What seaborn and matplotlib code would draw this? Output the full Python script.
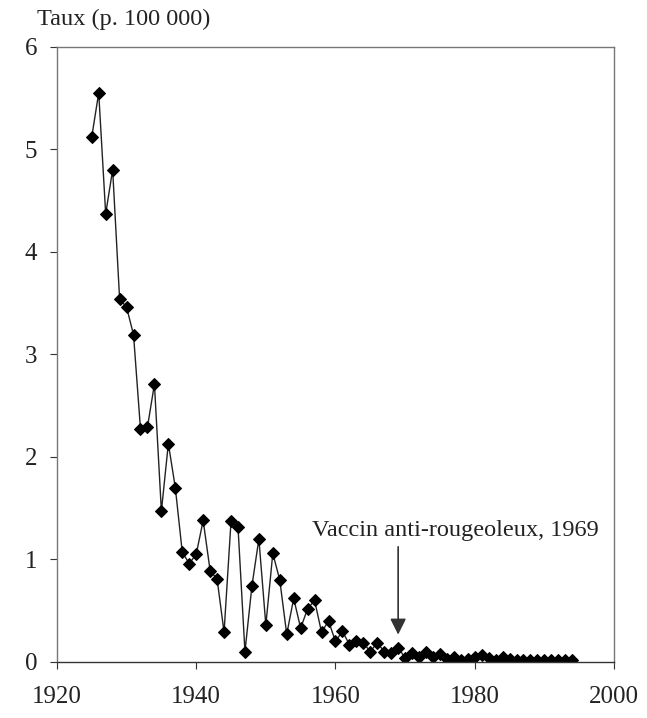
import matplotlib
matplotlib.use("Agg")
import matplotlib.pyplot as plt
import seaborn as sns
import pandas as pd

# annual rate per 100 000
years = list(range(1925, 1995))
taux = [5.12, 5.55, 4.37, 4.80, 3.54, 3.46, 3.19, 2.27, 2.29, 2.71,
        1.47, 2.13, 1.70, 1.07, 0.96, 1.05, 1.38, 0.89, 0.81, 0.29,
        1.37, 1.32, 0.10, 0.74, 1.20, 0.36, 1.06, 0.80, 0.27, 0.62,
        0.33, 0.52, 0.60, 0.29, 0.40, 0.20, 0.30, 0.17, 0.20, 0.19,
        0.10, 0.19, 0.10, 0.09, 0.14, 0.04, 0.09, 0.05, 0.10, 0.05,
        0.08, 0.03, 0.05, 0.02, 0.03, 0.05, 0.07, 0.04, 0.02, 0.05,
        0.03, 0.02, 0.02, 0.02, 0.02, 0.02, 0.02, 0.02, 0.02, 0.02]
x_ticks = [1920, 1940, 1960, 1980, 2000]
y_ticks = [0, 1, 2, 3, 4, 5, 6]
vaccin_year = 1969

df = pd.DataFrame({"annee": years, "taux": taux})

sns.set_style("ticks")
plt.rcParams["font.family"] = ["Liberation Serif", "DejaVu Serif"]

fig = plt.figure(figsize=(6.47, 7.18), dpi=100)
ax = fig.add_axes([0.088, 0.078, 0.861, 0.857])

sns.lineplot(data=df, x="annee", y="taux", ax=ax, color="#222222",
             linewidth=1.0, marker="D", markersize=6,
             markerfacecolor="black", markeredgecolor="black")

ax.set_xlim(1920, 2000)
ax.set_ylim(0, 6)
ax.set_xticks(x_ticks)
ax.set_yticks(y_ticks)
ax.tick_params(labelsize=18, length=5, width=0.8, colors="#333333",
               labelcolor="#222222")
ax.tick_params(axis="x", pad=12)
ax.tick_params(axis="y", pad=9)
for sp in ax.spines.values():
    sp.set_visible(True)
    sp.set_color("#777777")
    sp.set_linewidth(1.0)
ax.spines["bottom"].set_color("#333333")
ax.set_xlabel("")
ax.set_ylabel("")

ax.annotate("", xy=(vaccin_year, 0.24), xytext=(vaccin_year, 1.15),
            arrowprops=dict(arrowstyle="-|>", color="#333333", lw=1.2,
                            mutation_scale=24))
ax.text(1977.2, 1.28, "Vaccin anti-rougeoleux, 1969", ha="center",
        va="center", fontsize=17.5, color="#222222")

fig.text(0.057, 0.973, "Taux (p. 100 000)", ha="left", va="center",
         fontsize=17.5, color="#222222")

fig.savefig("out.png", dpi=100, facecolor="white")
